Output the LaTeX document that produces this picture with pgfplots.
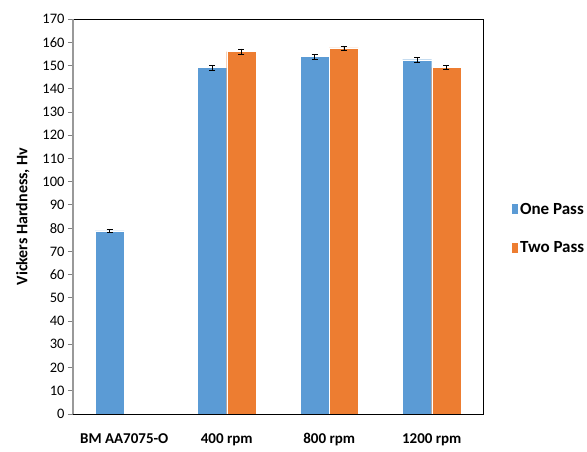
\documentclass[border=0pt]{standalone}
\usepackage{pgfplots}
\pgfplotsset{compat=1.18}
\usepackage{fontspec}
\setmainfont{Carlito}
\definecolor{cblue}{HTML}{5B9BD5}
\definecolor{corange}{HTML}{ED7D31}
\begin{document}
\begin{tikzpicture}
\useasboundingbox (-73pt,-38pt) rectangle (514pt,414pt);
\begin{axis}[
  at={(0,0)}, anchor=south west,
  scale only axis, width=410pt, height=395pt,
  xmin=-0.5, xmax=3.5, ymin=0, ymax=170,
  ybar=0pt, bar width=0.285,
  ytick={0,10,...,170},
  xtick={0,1,2,3},
  xticklabels={BM AA7075-O,400 rpm,800 rpm,1200 rpm},
  x tick style={draw=none},
  extra x ticks={-0.5,0.5,1.5,2.5,3.5},
  extra x tick labels={},
  extra x tick style={tick style={draw=gray,thick}, major tick length=5pt, tick align=outside},
  xticklabel style={font=\fontsize{15}{17}\selectfont\bfseries, yshift=-11pt},
  yticklabel style={font=\fontsize{14.5}{16}\selectfont},
  /pgf/number format/assume math mode=true,
  y tick style={draw=gray, thick},
  major tick length=5pt, tick align=outside,
  ytick pos=left, xtick pos=bottom,
  axis line style={black, thick},
  ylabel={\bfseries Vickers Hardness, Hv},
  ylabel style={font=\fontsize{16}{18}\selectfont, yshift=6pt},
  legend style={at={(1.06,0.545)}, anchor=north west, draw=none, fill=none,
    font=\fontsize{17}{19}\selectfont\bfseries, row sep=22pt},
  legend cell align=left,
  legend image code/.code={\fill[#1] (0pt,-5pt) rectangle (7pt,6pt);},
  error bars/error bar style={black, thin},
  error bars/error mark options={rotate=90, mark size=3pt, black, thin},
]
\addplot[fill=cblue, draw=white, line width=0.3pt,
  error bars/.cd, y dir=both, y explicit]
  coordinates {(0,78.8) +- (0,0.6) (1,149.1) +- (0,1.0) (2,153.9) +- (0,1.0) (3,152.5) +- (0,0.9)};
\addplot[fill=corange, draw=white, line width=0.3pt,
  error bars/.cd, y dir=both, y explicit]
  coordinates {(1,156.0) +- (0,1.2) (2,157.6) +- (0,0.9) (3,149.1) +- (0,0.9)};
\legend{One Pass, Two Pass}
\end{axis}
\draw[gray!80, line width=1.2pt] (0,0) -- (0,395pt);
\end{tikzpicture}
\end{document}
